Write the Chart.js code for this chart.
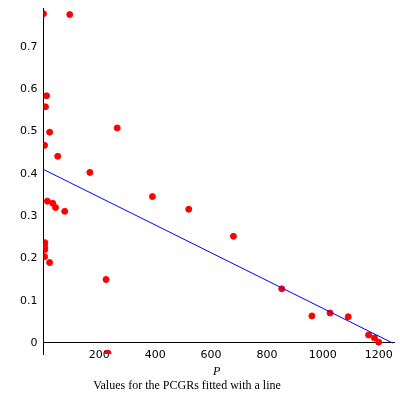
<!DOCTYPE html>
<html><head><script src="https://cdn.jsdelivr.net/npm/chart.js@4"></script>
<style>body{margin:0;background:#fff}#w{width:400px;height:400px}</style></head>
<body><div id="w"><canvas id="c"></canvas></div>
<script>
const pX=[0,94,11,7,22,4,51,264,166,390,520,14,33,43,76,680,5,4,5,4,22,224,231,853,961,1026,1091,1164,1185,1200];
const pY=[0.778,0.776,0.584,0.558,0.498,0.467,0.441,0.508,0.403,0.346,0.316,0.335,0.330,0.320,0.311,0.252,0.237,0.228,0.221,0.204,0.190,0.150,-0.024,0.128,0.064,0.071,0.062,0.019,0.012,0.002];
const lineX=[0,1250];
const lineY=[0.41,0];
const xTicks=[200,400,600,800,1000,1200];
const yTicks=[0,0.1,0.2,0.3,0.4,0.5,0.6,0.7];
const font={family:'"DejaVu Sans", sans-serif',size:11};
new Chart(document.getElementById('c'),{
 type:'scatter',
 data:{datasets:[
  {type:'line',data:lineX.map((x,i)=>({x,y:lineY[i]})),borderColor:'#0000ff',borderWidth:1,pointRadius:0,fill:false},
  {data:pX.map((x,i)=>({x,y:pY[i]})),backgroundColor:'#ff0000',borderColor:'#ff0000',pointRadius:3}
 ]},
 options:{animation:false,responsive:true,maintainAspectRatio:false,
  layout:{padding:{top:6,right:6,bottom:46,left:18}},
  plugins:{legend:{display:false},tooltip:{enabled:false}},
  scales:{
   x:{type:'linear',min:0,max:1255,position:{y:0},
    afterBuildTicks:s=>{s.ticks=xTicks.map(v=>({value:v}));},
    grid:{display:false,drawTicks:true,tickLength:4,color:'#000'},border:{color:'#000'},
    ticks:{color:'#000',font,padding:2,callback:v=>String(v)}},
   y:{type:'linear',min:-0.026,max:0.79,
    afterBuildTicks:s=>{s.ticks=yTicks.map(v=>({value:v}));},
    grid:{display:false,drawTicks:true,tickLength:4,color:'#000'},border:{color:'#000'},
    ticks:{color:'#000',font,padding:2,callback:v=>String(+v.toFixed(1))}}
  }},
 plugins:[{id:'txt',afterDraw(ch){const c=ch.ctx;c.save();c.fillStyle='#000';c.textAlign='center';
  c.font='italic 12px "Liberation Serif", serif';c.fillText('P',ch.scales.x.getPixelForValue(620),375);
  c.font='12px "Liberation Serif", serif';c.fillText('Values for the PCGRs fitted with a line',187,389);c.restore();}}]
});
</script></body></html>
